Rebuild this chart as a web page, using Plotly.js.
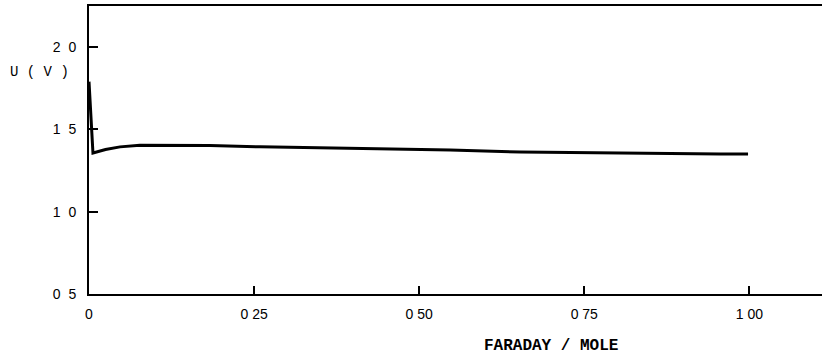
<!DOCTYPE html>
<html>
<head>
<meta charset="utf-8">
<script src="https://cdn.plot.ly/plotly-3.0.1.min.js"></script>
<style>html,body{margin:0;padding:0;background:#fff;}#chart{width:822px;height:356px;}</style>
</head>
<body>
<div id="chart"></div>
<script>
// Faraday per mole (x) and cell voltage U in V (y)
const faraday = [0.000, 0.006, 0.025, 0.047, 0.077, 0.183, 0.259, 0.350, 0.426, 0.547, 0.653, 0.774, 0.956, 0.998];
const voltage = [1.79, 1.357, 1.378, 1.394, 1.404, 1.403, 1.394, 1.388, 1.381, 1.375, 1.363, 1.357, 1.351, 1.351];

const xTickVals = [0, 0.25, 0.5, 0.75, 1.0];
const xTickText = ["0", "0 25", "0 50", "0 75", "1 00"];
const yTickVals = [0.5, 1.0, 1.5, 2.0];
const yTickText = ["0\u00a0\u00a05", "1\u00a0\u00a00", "1\u00a0\u00a05", "2\u00a0\u00a00"];

const xTitle = "FARADAY / MOLE";
const yTitle = "U ( V )";

const trace = {
  x: faraday, y: voltage, mode: "lines", type: "scatter",
  line: {color: "#000", width: 3},
  hoverinfo: "skip"
};

const tickFont = {family: "Liberation Sans, Arial, sans-serif", size: 14, color: "#000"};

const layout = {
  width: 822, height: 356,
  margin: {l: 89, r: 0, t: 6, b: 62},
  paper_bgcolor: "#fff", plot_bgcolor: "#fff",
  showlegend: false,
  xaxis: {
    range: [0, 1.11], showgrid: false, zeroline: false,
    showline: true, linecolor: "#000", linewidth: 2, mirror: true,
    ticks: "inside", ticklen: 8, tickwidth: 2, tickcolor: "#000",
    ticklabelstandoff: 6,
    tickvals: xTickVals, ticktext: xTickText, tickfont: tickFont
  },
  yaxis: {
    range: [0.5, 2.25], showgrid: false, zeroline: false,
    showline: true, linecolor: "#000", linewidth: 2, mirror: false,
    ticks: "inside", ticklen: 9, tickwidth: 2, tickcolor: "#000",
    ticklabelstandoff: 8,
    tickvals: yTickVals, ticktext: yTickText, tickfont: tickFont
  },
  annotations: [
    {text: "<b>" + xTitle + "</b>", xref: "paper", yref: "paper", x: 0.63, y: -0.18,
     xanchor: "center", yanchor: "middle", showarrow: false,
     font: {family: "Courier New, Liberation Mono, monospace", size: 16, color: "#000"}},
    {text: yTitle, xref: "paper", yref: "paper", x: -0.11, y: 0.771,
     xanchor: "left", yanchor: "middle", showarrow: false,
     font: {family: "Courier New, Liberation Mono, monospace", size: 14, color: "#000"}}
  ]
};

Plotly.newPlot("chart", [trace], layout, {displayModeBar: false, staticPlot: true});
</script>
</body>
</html>
